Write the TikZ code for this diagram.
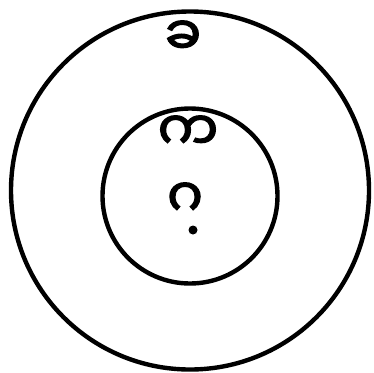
\documentclass[tikz,border=0pt]{standalone}
\usepackage{fontspec}
\newfontfamily\myanmarfont[Script=Myanmar, FakeBold=2.5]{Noto Sans Myanmar UI}
\usetikzlibrary{positioning}

\begin{document}
\begin{tikzpicture}[
    x=1pt, y=-1pt,
    ring/.style={draw=black, line width=4.4pt, circle, inner sep=0pt},
    letter/.style={inner sep=0pt, font=\myanmarfont\fontsize{54}{54}\selectfont},
    spot/.style={fill=black, circle, inner sep=0pt, minimum size=9pt}
]
\useasboundingbox (0,0) rectangle (374,372);
\node[ring, minimum size=358pt] (outer) at (190,190.5) {};
\node[ring, minimum size=175pt] (inner) at (190,196) {};

\node[letter] (kha) at (183,38) {ခ};
\node[letter] (ka) at (188,133) {က};
\node[letter] (ga) at (185,200) {ဂ};
\node[spot] (centre) at (193,230) {};
\end{tikzpicture}
\end{document}
